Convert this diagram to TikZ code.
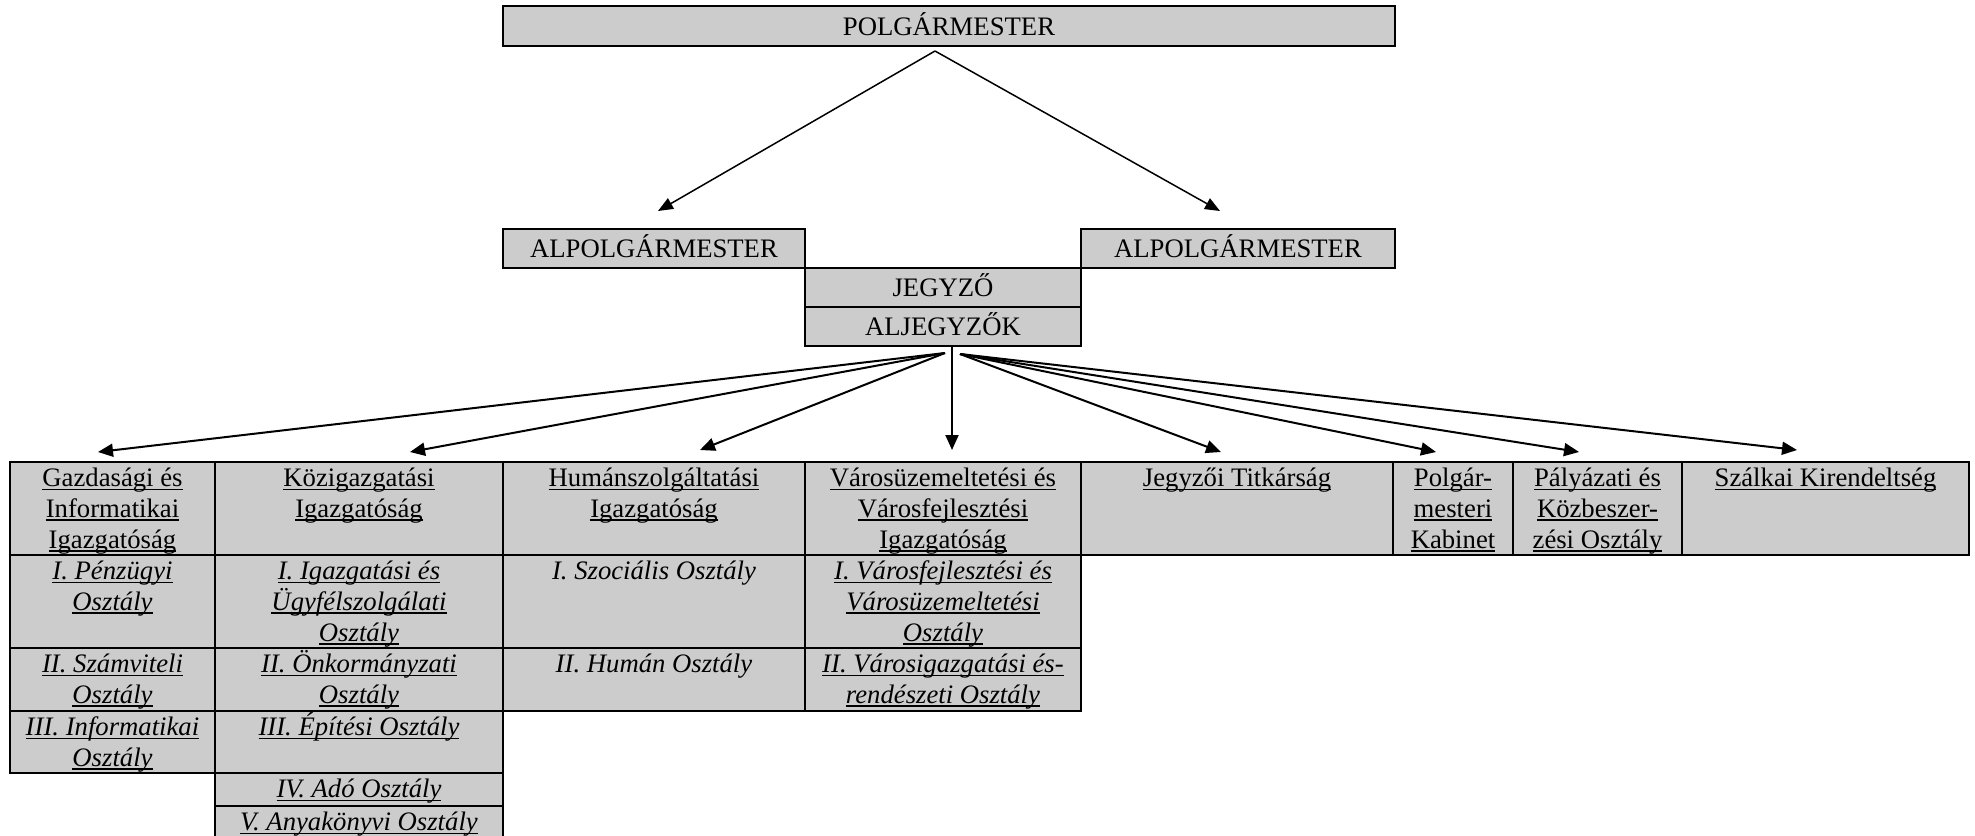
\documentclass[tikz,border=0pt]{standalone}
\usepackage{fontspec}
\setmainfont{Liberation Serif}
\usetikzlibrary{arrows.meta}
\definecolor{cellgray}{RGB}{204,204,204}
\newcommand{\uln}[1]{\setbox0\hbox{#1}\rlap{\rule[-3.5pt]{\wd0}{1.6pt}}\box0}
\newcommand{\fstrut}{\rule{0pt}{26pt}}

\begin{document}
\begin{tikzpicture}[x=1pt,y=-1pt,
  font=\fontsize{26.7}{30.7}\selectfont,
  box/.style={draw,fill=cellgray,line width=2pt,inner sep=0pt,outer sep=0pt,anchor=north west},
  head/.style={box,text height=20pt,text depth=2pt},
  lbl/.style={anchor=north,align=center,inner sep=0pt,yshift=1.5pt},
  arr/.style={-{Triangle[length=15pt,width=13pt]},line width=2pt},
  arrtop/.style={-{Triangle[length=15pt,width=12pt]},line width=1.5pt}]

\useasboundingbox (0,0) rectangle (1975,835);
\clip (0,0) rectangle (1975,835);

%leaders
\node[head,minimum width=892pt,minimum height=40pt] (polg) at (503,6) {POLGÁRMESTER};
\node[head,minimum width=302pt,minimum height=39pt] (alp1) at (503,229) {ALPOLGÁRMESTER};
\node[head,minimum width=314pt,minimum height=39pt] (alp2) at (1081,229) {ALPOLGÁRMESTER};
\node[head,minimum width=276pt,minimum height=39pt] (jegy) at (805,268) {JEGYZŐ};
\node[head,minimum width=276pt,minimum height=39pt] (alj) at (805,307) {ALJEGYZŐK};

%directorates
\node[box,minimum width=205pt,minimum height=93pt] (gazd) at (10,462) {};
\node[box,minimum width=288pt,minimum height=93pt] (kozig) at (215,462) {};
\node[box,minimum width=302pt,minimum height=93pt] (human) at (503,462) {};
\node[box,minimum width=276pt,minimum height=93pt] (varos) at (805,462) {};
\node[box,minimum width=312pt,minimum height=93pt] (jtit) at (1081,462) {};
\node[box,minimum width=120pt,minimum height=93pt] (pkab) at (1393,462) {};
\node[box,minimum width=169pt,minimum height=93pt] (palyaz) at (1513,462) {};
\node[box,minimum width=287pt,minimum height=93pt] (szalk) at (1682,462) {};

\node[lbl] (tgazd) at (gazd.north) {\fstrut\uln{Gazdasági és}\\\uln{Informatikai}\\\uln{Igazgatóság}};
\node[lbl] (tkozig) at (kozig.north) {\fstrut\uln{Közigazgatási}\\\uln{Igazgatóság}};
\node[lbl] (thuman) at (human.north) {\fstrut\uln{Humánszolgáltatási}\\\uln{Igazgatóság}};
\node[lbl] (tvaros) at (varos.north) {\fstrut\uln{Városüzemeltetési és}\\\uln{Városfejlesztési}\\\uln{Igazgatóság}};
\node[lbl] (tjtit) at (jtit.north) {\fstrut\uln{Jegyzői Titkárság}};
\node[lbl] (tpkab) at (pkab.north) {\fstrut\uln{Polgár-}\\\uln{mesteri}\\\uln{Kabinet}};
\node[lbl] (tpalyaz) at (palyaz.north) {\fstrut\uln{Pályázati és}\\\uln{Közbeszer-}\\\uln{zési Osztály}};
\node[lbl] (tszalk) at (szalk.north) {\fstrut\uln{Szálkai Kirendeltség}};

%departments
\node[box,minimum width=205pt,minimum height=93pt] (gazd1) at (10,555) {};
\node[box,minimum width=205pt,minimum height=63pt] (gazd2) at (10,648) {};
\node[box,minimum width=205pt,minimum height=62pt] (gazd3) at (10,711) {};
\node[box,minimum width=288pt,minimum height=93pt] (kozig1) at (215,555) {};
\node[box,minimum width=288pt,minimum height=63pt] (kozig2) at (215,648) {};
\node[box,minimum width=288pt,minimum height=62pt] (kozig3) at (215,711) {};
\node[box,minimum width=288pt,minimum height=33pt] (kozig4) at (215,773) {};
\node[box,minimum width=288pt,minimum height=44pt] (kozig5) at (215,806) {};
\node[box,minimum width=302pt,minimum height=93pt] (human1) at (503,555) {};
\node[box,minimum width=302pt,minimum height=63pt] (human2) at (503,648) {};
\node[box,minimum width=276pt,minimum height=93pt] (varos1) at (805,555) {};
\node[box,minimum width=276pt,minimum height=63pt] (varos2) at (805,648) {};

\node[lbl] (tgazd1) at (gazd1.north) {\fstrut\uln{\itshape I. Pénzügyi}\\\uln{\itshape Osztály}};
\node[lbl] (tgazd2) at (gazd2.north) {\fstrut\uln{\itshape II. Számviteli}\\\uln{\itshape Osztály}};
\node[lbl] (tgazd3) at (gazd3.north) {\fstrut\uln{\itshape III. Informatikai}\\\uln{\itshape Osztály}};
\node[lbl] (tkozig1) at (kozig1.north) {\fstrut\uln{\itshape I. Igazgatási és}\\\uln{\itshape Ügyfélszolgálati}\\\uln{\itshape Osztály}};
\node[lbl] (tkozig2) at (kozig2.north) {\fstrut\uln{\itshape II. Önkormányzati}\\\uln{\itshape Osztály}};
\node[lbl] (tkozig3) at (kozig3.north) {\fstrut\uln{\itshape III. Építési Osztály}};
\node[lbl] (tkozig4) at (kozig4.north) {\fstrut\uln{\itshape IV. Adó Osztály}};
\node[lbl] (tkozig5) at (kozig5.north) {\fstrut\uln{\itshape V. Anyakönyvi Osztály}};
\node[lbl] (thuman1) at (human1.north) {\fstrut\itshape I. Szociális Osztály};
\node[lbl] (thuman2) at (human2.north) {\fstrut\itshape II. Humán Osztály};
\node[lbl] (tvaros1) at (varos1.north) {\fstrut\uln{\itshape I. Városfejlesztési és}\\\uln{\itshape Városüzemeltetési}\\\uln{\itshape Osztály}};
\node[lbl] (tvaros2) at (varos2.north) {\fstrut\uln{\itshape II. Városigazgatási és-}\\\uln{\itshape rendészeti Osztály}};

%arrows
\draw[arrtop] ([xshift=-14pt,yshift=-5pt]polg.south) -- ([xshift=4pt,yshift=18pt]alp1.north);
\draw[arrtop] ([xshift=-14pt,yshift=-5pt]polg.south) -- ([xshift=-18pt,yshift=18pt]alp2.north);

\draw[arr] ([xshift=2pt,yshift=-7pt]alj.south) -- ([xshift=-14.5pt,yshift=10pt]gazd.north);
\draw[arr] ([xshift=2pt,yshift=-7pt]alj.south) -- ([xshift=51pt,yshift=10pt]kozig.north);
\draw[arr] ([xshift=2pt,yshift=-7pt]alj.south) -- ([xshift=46pt,yshift=12pt]human.north);
\draw[arr] ([xshift=9pt]alj.south) -- ([xshift=9pt,yshift=12pt]varos.north);
\draw[arr] ([xshift=17pt,yshift=-8pt]alj.south) -- ([xshift=-16pt,yshift=10pt]jtit.north);
\draw[arr] ([xshift=17pt,yshift=-8pt]alj.south) -- ([xshift=-17pt,yshift=10pt]pkab.north);
\draw[arr] ([xshift=17pt,yshift=-8pt]alj.south) -- ([xshift=-18.5pt,yshift=10pt]palyaz.north);
\draw[arr] ([xshift=17pt,yshift=-8pt]alj.south) -- ([xshift=-28.5pt,yshift=12pt]szalk.north);

\end{tikzpicture}
\end{document}
